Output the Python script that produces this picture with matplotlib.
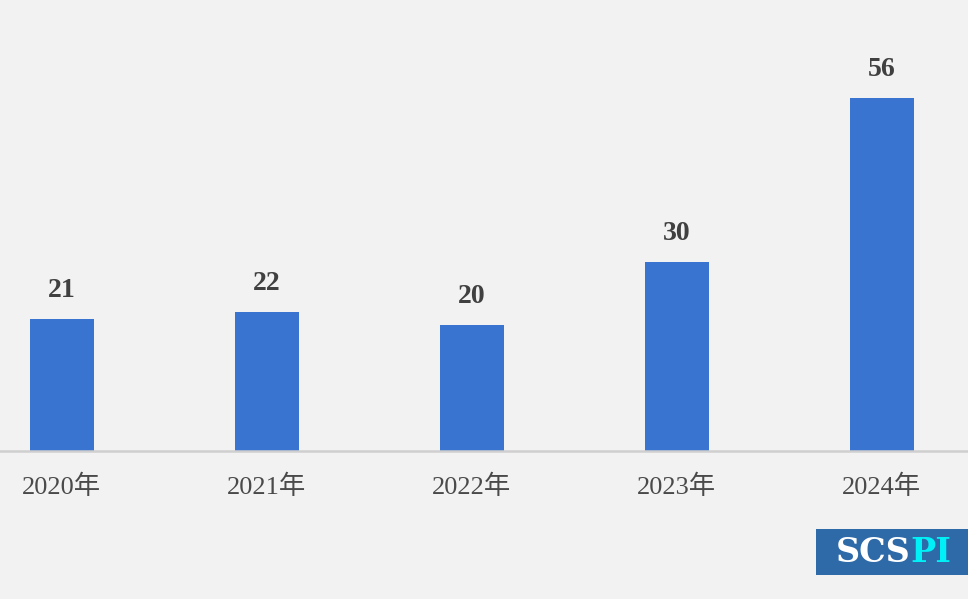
import matplotlib.pyplot as plt
from matplotlib.patches import Rectangle

years = ["2020年", "2021年", "2022年", "2023年", "2024年"]
counts = [21, 22, 20, 30, 56]

bg = "#f2f2f2"
bar_color = "#3a74d1"
fonts = ["Liberation Serif", "Noto Sans CJK SC"]

fig = plt.figure(figsize=(9.68, 5.99), dpi=100, facecolor=bg)
ax = fig.add_axes([0, 1 - 451 / 599, 1, 451 / 599])
ax.set_facecolor(bg)

x = range(len(years))
bars = ax.bar(x, counts, width=0.31, color=bar_color, zorder=2)
for b, v in zip(bars, counts):
    ax.annotate(str(v), (b.get_x() + b.get_width() / 2, v),
                xytext=(0, 16), textcoords="offset pixels",
                ha="center", va="bottom", fontsize=20, fontweight="bold",
                color="#404040", family=fonts)

ax.set_xlim(-0.302, 4.42)
ax.set_ylim(0, 71.6)
ax.set_xticks(list(x))
ax.set_xticklabels(years, fontsize=19, color="#4a4a4a", family=fonts)
ax.tick_params(axis="x", length=0, pad=17)
ax.set_yticks([])
for s in ["top", "right", "left"]:
    ax.spines[s].set_visible(False)
ax.spines["bottom"].set_color("#cfcfcf")
ax.spines["bottom"].set_linewidth(1.8)

# logo
fig.patches.append(Rectangle((816 / 968, 1 - 575 / 599), 152 / 968, 46 / 599,
                             transform=fig.transFigure, facecolor="#2e69a8",
                             edgecolor="none"))
logo_kw = dict(fontsize=24, fontweight="bold", fontstyle="normal",
               family="DejaVu Serif", va="center", ha="left")
t1 = fig.text(836 / 968, 1 - 552 / 599, "SCS", color="white", **logo_kw)
fig.canvas.draw()
bb = t1.get_window_extent()
fig.text(bb.x1 / 968, 1 - 552 / 599, "PI", color="#00f0f8", **logo_kw)

fig.savefig("out.png", dpi=100, facecolor=bg)
